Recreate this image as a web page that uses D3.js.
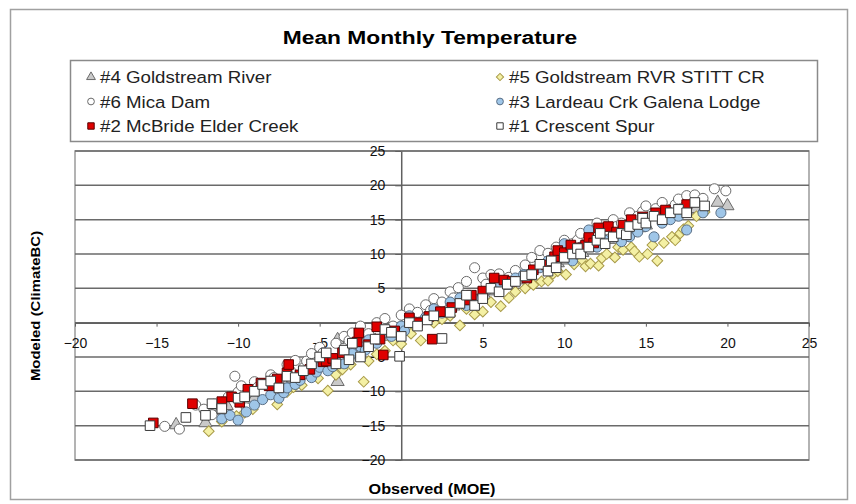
<!DOCTYPE html>
<html>
<head>
<meta charset="utf-8">
<script src="https://cdn.jsdelivr.net/npm/d3@7"></script>
<style>
  body { margin: 0; background: #fff; }
  text { font-family: "Liberation Sans", Arial, sans-serif; }
</style>
</head>
<body>
<div id="chart"></div>
<script>
// tick values for both axes
const tickValues = [-20, -15, -10, -5, 0, 5, 10, 15, 20, 25];

// [observed, modeled] pairs, one list per station
const goldstreamRiver = [[-13.8,-14.9],[-12.0,-14.6],[-11.5,-12.2],[-11.1,-12.8],[-10.7,-12.1],[-9.6,-10.8],[-9.0,-11.0],[-8.1,-10.1],[-7.2,-9.0],[-6.6,-8.2],[-5.6,-6.6],[-5.0,-5.3],[-4.6,-6.1],[-3.9,-8.6],[-3.9,-2.5],[-3.0,-4.1],[-2.4,-3.2],[-1.6,-2.6],[-0.8,-2.0],[-0.2,-1.0],[0.5,-0.6],[1.0,0.4],[2.6,1.6],[3.2,2.4],[4.0,3.1],[5.1,4.0],[5.8,4.6],[6.5,5.4],[7.2,6.2],[8.0,6.6],[9.1,8.0],[9.6,8.7],[10.2,9.1],[11.1,10.2],[11.6,11.0],[12.1,11.4],[13.1,12.1],[13.6,12.4],[14.0,13.1],[14.6,13.8],[15.0,14.2],[16.1,15.1],[16.6,15.8],[17.2,16.0],[17.7,16.4],[18.1,16.6],[19.4,17.5],[20.0,17.0]];
const goldstreamStitt = [[-11.8,-15.8],[-11.0,-14.4],[-10.1,-13.6],[-9.6,-13.1],[-9.1,-12.6],[-8.4,-11.0],[-7.6,-11.9],[-7.0,-10.1],[-6.6,-9.4],[-6.1,-9.1],[-5.6,-7.4],[-5.1,-8.1],[-4.5,-9.9],[-4.0,-7.6],[-3.6,-6.8],[-3.1,-6.1],[-2.3,-8.6],[-2.0,-5.6],[-1.5,-4.6],[-1.0,-4.1],[-0.5,-2.6],[0.0,-3.1],[0.6,-1.6],[1.2,-2.6],[2.0,0.0],[2.5,0.5],[3.0,1.0],[3.6,-0.4],[4.0,2.0],[4.5,1.2],[5.0,1.6],[5.5,3.0],[6.1,2.4],[6.6,3.6],[7.0,4.5],[7.6,5.0],[8.1,5.5],[8.6,6.0],[9.0,6.1],[9.3,7.1],[9.6,7.5],[10.1,7.0],[10.6,8.5],[11.1,9.1],[11.3,8.2],[11.6,8.6],[12.1,8.3],[12.3,9.4],[12.6,10.0],[13.1,9.5],[13.3,11.0],[13.6,10.6],[14.1,11.0],[14.3,10.4],[14.6,9.6],[15.1,10.0],[15.4,11.3],[15.7,9.0],[16.1,11.6],[16.6,12.5],[16.8,12.0],[17.1,13.0],[17.3,13.6],[17.6,14.1],[18.1,15.5],[18.6,16.1]];
const micaDam = [[-14.5,-15.1],[-13.6,-15.5],[-12.6,-12.0],[-12.1,-12.6],[-11.6,-13.4],[-11.0,-11.6],[-10.6,-10.8],[-10.2,-7.8],[-10.0,-10.1],[-9.8,-9.2],[-9.5,-12.4],[-9.0,-8.6],[-8.8,-9.4],[-8.5,-10.1],[-8.0,-7.6],[-7.8,-8.0],[-7.5,-8.6],[-7.0,-6.1],[-6.8,-7.0],[-6.5,-5.5],[-6.0,-6.6],[-5.8,-5.6],[-5.5,-4.5],[-5.0,-3.6],[-4.8,-4.4],[-4.5,-5.1],[-4.0,-3.0],[-3.5,-2.0],[-3.2,-2.6],[-3.0,-1.5],[-2.5,-0.5],[-2.0,-1.6],[-1.5,0.0],[-1.2,-0.6],[-1.0,0.6],[-0.5,-0.5],[0.0,1.1],[0.5,2.0],[0.8,0.6],[1.0,1.5],[1.5,2.6],[1.8,1.8],[2.0,3.5],[2.5,3.0],[3.0,4.5],[3.2,3.6],[3.5,5.1],[4.0,6.0],[4.5,8.0],[5.0,6.5],[5.2,5.6],[5.5,7.0],[6.0,7.1],[6.6,6.6],[7.0,7.6],[7.6,8.4],[8.0,9.5],[8.5,10.5],[9.0,10.1],[9.2,9.2],[9.5,11.0],[10.0,12.0],[10.5,11.5],[10.8,12.0],[11.0,13.0],[11.5,12.6],[11.8,13.4],[12.0,14.5],[12.5,13.5],[13.0,15.0],[13.2,14.0],[13.5,14.5],[14.0,16.0],[14.5,15.5],[14.8,16.2],[15.0,17.0],[15.6,16.6],[16.0,17.5],[16.5,16.5],[16.8,17.2],[17.0,18.0],[17.5,18.5],[18.0,18.6],[18.5,18.1],[19.2,19.5],[19.9,19.2]];
const lardeau = [[-11.0,-14.0],[-10.5,-13.5],[-10.0,-14.2],[-9.5,-13.0],[-9.0,-12.0],[-8.5,-11.2],[-8.0,-10.5],[-7.5,-11.0],[-7.2,-10.2],[-7.0,-9.5],[-6.5,-9.0],[-6.2,-8.4],[-6.0,-7.5],[-5.5,-8.0],[-5.2,-7.2],[-5.0,-6.5],[-4.5,-7.0],[-4.2,-6.4],[-4.0,-5.5],[-3.5,-6.0],[-3.2,-5.2],[-3.0,-4.5],[-2.5,-3.5],[-2.2,-4.0],[-2.0,-2.5],[-1.5,-3.0],[-1.0,-1.5],[-0.6,-2.0],[0.0,-0.5],[0.2,-1.2],[0.5,1.0],[1.0,0.0],[1.5,0.8],[2.0,2.0],[2.5,1.4],[3.0,3.0],[3.6,3.6],[4.0,2.5],[4.6,3.4],[5.0,4.0],[6.0,5.5],[7.0,6.5],[7.5,7.0],[8.0,7.2],[8.5,8.0],[9.0,9.0],[9.5,9.5],[10.0,11.5],[10.2,10.2],[10.5,9.0],[11.0,11.0],[11.5,13.5],[12.0,11.0],[12.5,12.0],[13.0,12.5],[13.5,11.8],[14.0,12.5],[14.5,13.2],[15.0,14.0],[15.5,12.5],[16.0,14.5],[16.5,15.0],[17.0,15.5],[17.5,13.5],[18.5,16.0],[19.6,16.0]];
const mcbride = [[-15.2,-14.6],[-12.8,-11.8],[-11.0,-11.5],[-10.4,-10.8],[-9.9,-11.6],[-9.4,-9.7],[-8.6,-8.8],[-8.1,-9.2],[-7.6,-8.2],[-7.0,-7.3],[-6.9,-6.1],[-6.2,-7.6],[-5.6,-6.8],[-4.8,-5.7],[-4.6,-5.6],[-4.2,-5.2],[-3.6,-4.4],[-2.7,-2.8],[-2.6,-1.5],[-2.0,-3.2],[-1.5,-0.6],[-1.3,-2.4],[-1.1,-4.7],[-0.4,-1.2],[0.5,0.7],[1.0,0.0],[1.7,0.9],[1.9,-2.4],[2.4,1.6],[3.1,2.2],[4.0,3.3],[4.3,4.0],[5.0,4.6],[5.7,6.5],[6.3,6.2],[6.8,6.0],[7.7,6.5],[8.1,7.7],[8.9,8.4],[9.4,9.6],[9.6,10.5],[10.0,10.2],[10.4,11.3],[10.9,10.9],[11.3,11.3],[11.5,12.4],[11.8,11.6],[12.1,13.8],[12.7,14.0],[13.2,13.2],[13.6,14.2],[14.1,15.0],[14.8,15.4],[15.6,16.0],[16.2,16.4],[17.5,17.2]];
const crescentSpur = [[-15.4,-15.0],[-13.2,-13.8],[-12.0,-13.5],[-11.6,-11.8],[-11.0,-12.5],[-10.0,-11.0],[-9.6,-10.8],[-9.0,-10.0],[-8.5,-9.0],[-8.0,-8.5],[-7.5,-9.5],[-7.0,-7.8],[-6.5,-8.0],[-6.0,-7.0],[-5.5,-6.0],[-5.0,-5.0],[-4.6,-4.4],[-4.0,-6.0],[-3.5,-4.0],[-3.2,-5.4],[-3.0,-3.0],[-2.5,-5.0],[-2.0,-3.5],[-1.6,-2.4],[-1.0,-1.0],[-0.6,-1.4],[-0.1,-4.9],[0.0,-2.0],[0.5,0.0],[1.0,-0.5],[1.6,0.4],[2.5,-2.3],[2.0,1.0],[3.0,1.5],[3.6,2.8],[4.0,4.0],[4.5,2.5],[5.0,3.5],[5.5,5.0],[6.0,4.5],[6.5,5.6],[7.0,6.0],[7.6,6.8],[8.0,7.0],[8.5,8.5],[9.0,7.5],[9.2,9.0],[9.5,8.0],[10.0,9.5],[10.5,10.0],[10.8,10.8],[11.0,10.0],[11.5,11.0],[12.0,12.0],[12.2,13.0],[12.5,11.5],[13.0,12.5],[13.5,13.0],[13.8,12.8],[14.0,14.0],[14.5,14.3],[14.8,15.2],[15.0,14.5],[15.5,15.5],[16.0,15.0],[16.5,16.0],[17.0,16.5],[17.5,16.0],[18.0,17.5],[18.6,17.0]];

// series in drawing order (later ones sit on top)
const seriesNames = ["#4 Goldstream River", "#5 Goldstream RVR STITT CR", "#6 Mica Dam",
                     "#3 Lardeau Crk Galena Lodge", "#2 McBride Elder Creek", "#1 Crescent Spur"];
const seriesData = [goldstreamRiver, goldstreamStitt, micaDam, lardeau, mcbride, crescentSpur];

const styles = [
    {shape: d3.symbolTriangle, size: 75, rot: 0, fill: "#c9c9c9", stroke: "#6a6a6a"},
    {shape: d3.symbolSquare, size: 58, rot: 45, fill: "#f4f0a4", stroke: "#a89a48"},
    {shape: d3.symbolCircle, size: 80, rot: 0, fill: "#ffffff", stroke: "#6a6a6a"},
    {shape: d3.symbolCircle, size: 80, rot: 0, fill: "#9fc6e8", stroke: "#5a6f86"},
    {shape: d3.symbolSquare, size: 92, rot: 0, fill: "#e00000", stroke: "#5a0000"},
    {shape: d3.symbolSquare, size: 92, rot: 0, fill: "#ffffff", stroke: "#3a3a3a"}
];

const W = 856, H = 504;
const svg = d3.select("#chart").append("svg")
    .attr("width", W).attr("height", H);

// outer chart frame
svg.append("rect")
    .attr("x", 10.5).attr("y", 9.5).attr("width", 837).attr("height", 490)
    .attr("fill", "#fff").attr("stroke", "#a0a0a0").attr("stroke-width", 1.5);

// the source picture is stretched sideways, so text gets a horizontal scale
svg.append("text")
    .attr("transform", "translate(430,44) scale(1.2,1)")
    .attr("text-anchor", "middle")
    .style("font-size", "19px").style("font-weight", "bold")
    .text("Mean Monthly Temperature");

// legend
svg.append("rect")
    .attr("x", 70.5).attr("y", 60.5).attr("width", 747).attr("height", 81)
    .attr("fill", "#fff").attr("stroke", "#8a8a8a").attr("stroke-width", 1.5);

const legend = svg.append("g");
seriesNames.forEach(function(name, i) {
    let col = i % 2, row = Math.floor(i / 2);
    let lx = col === 0 ? 91 : 500, ly = 77 + row * 24.5;
    let st = styles[i];
    legend.append("path")
        .attr("d", d3.symbol().type(st.shape).size(st.size * 0.45)())
        .attr("transform", "translate(" + lx + "," + ly + ") rotate(" + st.rot + ")")
        .attr("fill", st.fill).attr("stroke", st.stroke).attr("stroke-width", 1);
    legend.append("text")
        .attr("transform", "translate(" + (lx + 9) + "," + (ly + 6) + ") scale(1.1,1)")
        .style("font-size", "17px")
        .attr("fill", "#222")
        .text(name);
});

// scales
const x = d3.scaleLinear().domain([-20, 25]).range([75, 809]);
const y = d3.scaleLinear().domain([-20, 25]).range([460, 151]);

// plot area border
svg.append("rect")
    .attr("x", 75).attr("y", 151).attr("width", 734).attr("height", 309)
    .attr("fill", "none").attr("stroke", "#9a9a9a").attr("stroke-width", 1.5);

// horizontal gridlines
svg.append("g").selectAll("line")
    .data(tickValues)
    .join("line")
    .attr("x1", 75).attr("x2", 809)
    .attr("y1", d => y(d)).attr("y2", d => y(d))
    .attr("stroke", "#6a6a6a").attr("stroke-width", 1.5);

// y axis through x = 0
const yAxis = svg.append("g")
    .attr("transform", "translate(" + x(0) + ",0)")
    .call(d3.axisLeft(y).tickValues(tickValues).tickSize(6).tickSizeOuter(0).tickPadding(10));

// x axis through y = 0
const xAxis = svg.append("g")
    .attr("transform", "translate(0," + y(0) + ")")
    .call(d3.axisBottom(x).tickValues(tickValues).tickSize(4).tickSizeOuter(0).tickPadding(11));

[xAxis, yAxis].forEach(function(ax) {
    ax.select(".domain").attr("stroke", "#606060").attr("stroke-width", 1.5);
    ax.selectAll(".tick line").attr("stroke", "#606060");
    ax.selectAll("text")
        .style("font-size", "14px").style("font-family", "'Liberation Sans', Arial, sans-serif")
        .attr("fill", "#111");
});

// points
seriesData.forEach(function(data, i) {
    let st = styles[i];
    svg.append("g").selectAll("path")
        .data(data)
        .join("path")
        .attr("d", d3.symbol().type(st.shape).size(st.size)())
        .attr("transform", d => "translate(" + x(d[0]) + "," + y(d[1]) + ") rotate(" + st.rot + ")")
        .attr("fill", st.fill).attr("stroke", st.stroke).attr("stroke-width", 1);
});

// axis titles
svg.append("text")
    .attr("transform", "translate(432,494) scale(1.08,1)")
    .attr("text-anchor", "middle")
    .style("font-size", "15px").style("font-weight", "bold")
    .text("Observed (MOE)");

svg.append("text")
    .attr("transform", "translate(40,306) rotate(-90) scale(1.15,1)")
    .attr("text-anchor", "middle")
    .style("font-size", "13px").style("font-weight", "bold")
    .text("Modeled (ClimateBC)");
</script>
</body>
</html>
